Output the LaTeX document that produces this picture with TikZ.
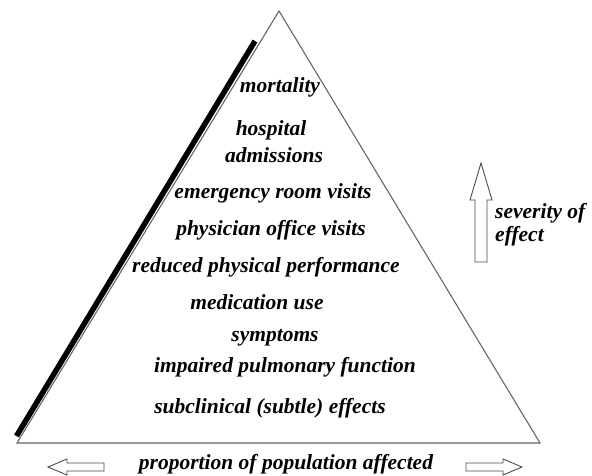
\documentclass[tikz,border=0pt]{standalone}
\usepackage{fontspec}
\setmainfont{Liberation Serif}
\usetikzlibrary{positioning}
\begin{document}
\begin{tikzpicture}[x=1pt, y=-1pt, lbl/.style = {font=\fontsize{21.5}{24}\selectfont\bfseries\itshape, inner sep=0pt}, blk/.style = {draw=black!70, line width=0.9pt, fill=white}] 
\useasboundingbox (0,0) rectangle (592,475);
% pyramid
\coordinate (top) at (279,11);
\coordinate (bl) at (17,443);
\coordinate (br) at (540,443);
\draw[black!60, line width=1.1pt, line join=miter] (bl) -- (top) -- (br) -- cycle;
\draw[line width=5.5pt] (16.5,436) -- (255,41);

\node[lbl] (1) at (280,87) {mortality};
\node[lbl] (2) at (271,130) {hospital};
\node[lbl] (3) at (274,155) {admissions};
\node[lbl] (4) at (273,193) {emergency room visits};
\node[lbl] (5) at (271,230) {physician office visits};
\node[lbl] (6) at (266,267) {reduced physical performance};
\node[lbl] (7) at (257,302) {medication use};
\node[lbl] (8) at (275,338) {symptoms};
\node[lbl] (9) at (285,367) {impaired pulmonary function};
\node[lbl] (10) at (270,408) {subclinical (subtle) effects};

\node[lbl, anchor=base west] (sev) at (495,218) {severity of};
\node[lbl] (eff) [below=23pt of sev.base west, anchor=base west] {effect};
\node[lbl] (pop) at (286,464) {proportion of population affected};

% block arrows
\draw[blk] (475,262) -- (475,200) -- (470,200) -- (481,163) -- (492,200) -- (487,200) -- (487,262) -- cycle;
\draw[blk] (104,463) -- (67,463) -- (67,459) -- (48,467) -- (67,475) -- (67,471) -- (104,471) -- cycle;
\draw[blk] (466,463) -- (503,463) -- (503,459) -- (522,467) -- (503,475) -- (503,471) -- (466,471) -- cycle;
\end{tikzpicture}
\end{document}
